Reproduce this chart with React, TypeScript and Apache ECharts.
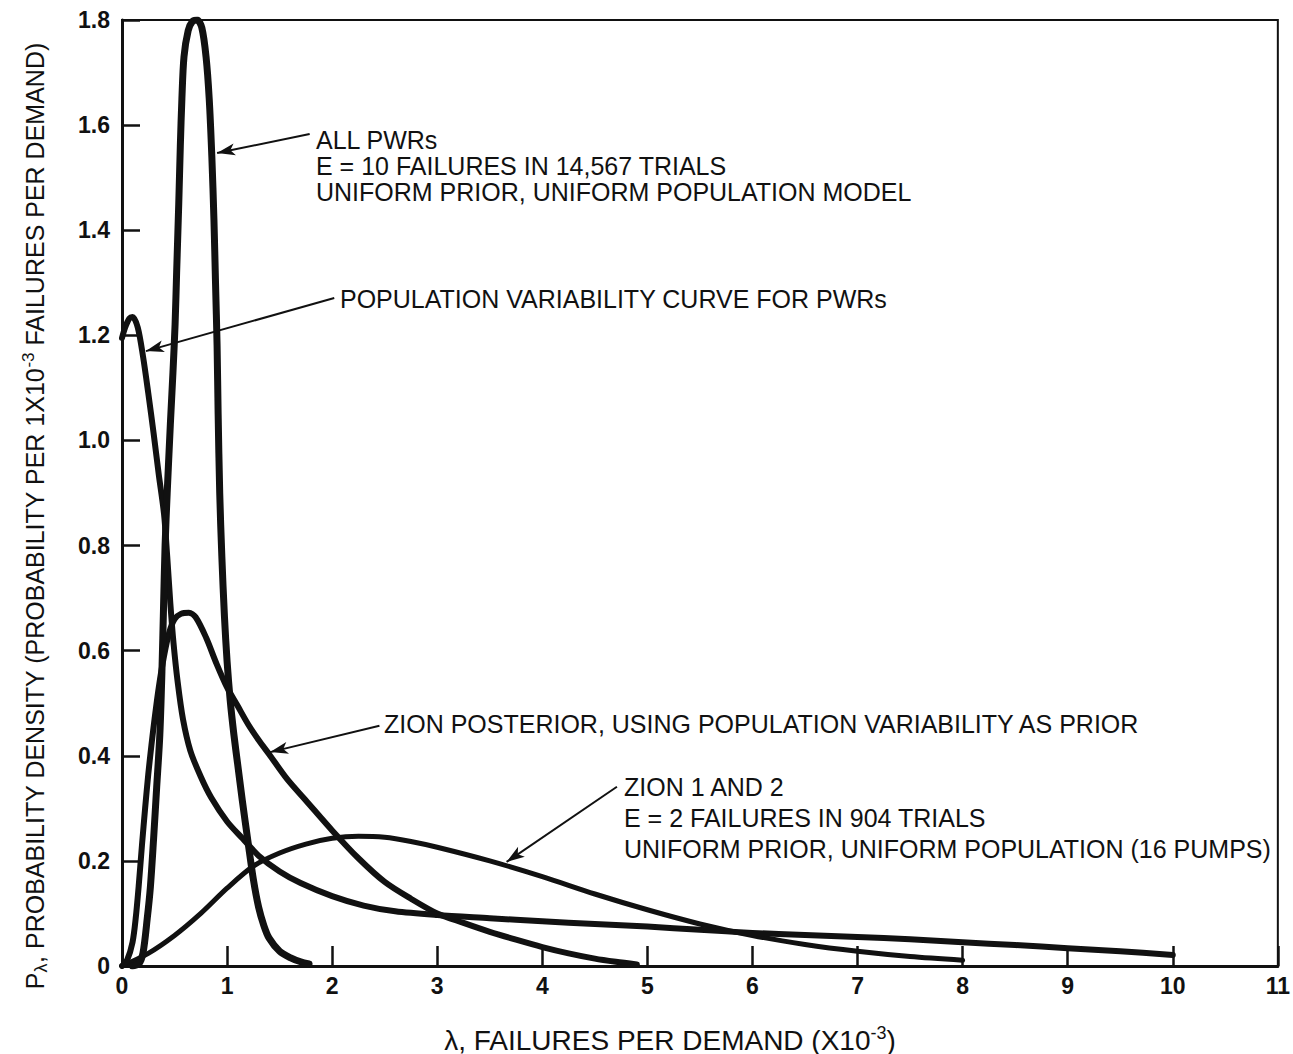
import React, { useEffect, useRef } from "react";
import * as echarts from "echarts";

// ---- Data (x in 1e-3 failures per demand, y density) ----
const allPwrsCurve: [number, number][] = [
  [0.1, 0], [0.16, 0.004], [0.2, 0.025], [0.24, 0.09], [0.27, 0.15], [0.3, 0.24],
  [0.33, 0.34], [0.36, 0.44], [0.38, 0.56], [0.395, 0.68], [0.41, 0.8], [0.43, 0.9],
  [0.46, 1.03], [0.485, 1.13], [0.505, 1.22], [0.52, 1.32], [0.54, 1.45], [0.555, 1.56],
  [0.57, 1.65], [0.59, 1.73], [0.63, 1.78], [0.67, 1.797], [0.715, 1.8], [0.76, 1.785],
  [0.8, 1.73], [0.83, 1.65], [0.855, 1.54], [0.875, 1.42], [0.89, 1.3], [0.905, 1.18],
  [0.915, 1.05], [0.93, 0.9], [0.95, 0.78], [0.975, 0.665], [1.0, 0.58], [1.03, 0.505],
  [1.065, 0.44], [1.1, 0.385], [1.145, 0.315], [1.2, 0.235], [1.25, 0.165], [1.3, 0.112],
  [1.35, 0.077], [1.4, 0.053], [1.5, 0.028], [1.6, 0.016], [1.7, 0.008], [1.78, 0.004],
];

const popVariabilityCurve: [number, number][] = [
  [0, 1.195], [0.03, 1.215], [0.07, 1.232], [0.1, 1.235], [0.15, 1.215], [0.2, 1.16],
  [0.25, 1.09], [0.3, 1.015], [0.35, 0.935], [0.4, 0.86], [0.43, 0.78], [0.46, 0.69],
  [0.49, 0.615], [0.53, 0.54], [0.58, 0.47], [0.65, 0.41], [0.75, 0.36], [0.85, 0.32],
  [1.0, 0.275], [1.15, 0.242], [1.3, 0.21], [1.5, 0.18], [1.7, 0.158], [2.0, 0.133],
  [2.3, 0.115], [2.6, 0.104], [3.0, 0.097], [3.5, 0.091], [4.0, 0.085], [4.5, 0.08],
  [5.0, 0.075], [5.5, 0.069], [6.0, 0.063], [6.5, 0.059], [7.0, 0.055], [7.5, 0.051],
  [8.0, 0.045], [8.5, 0.04], [9.0, 0.034], [9.5, 0.028], [10.0, 0.021],
];

const zionPosteriorCurve: [number, number][] = [
  [0, 0], [0.05, 0.012], [0.1, 0.045], [0.13, 0.09], [0.16, 0.155], [0.19, 0.23],
  [0.22, 0.3], [0.25, 0.365], [0.28, 0.42], [0.31, 0.47], [0.35, 0.53], [0.4, 0.59],
  [0.45, 0.635], [0.5, 0.66], [0.56, 0.67], [0.636, 0.672], [0.7, 0.664], [0.8, 0.625],
  [0.9, 0.575], [1.0, 0.53], [1.1, 0.495], [1.2, 0.46], [1.3, 0.43], [1.4, 0.403],
  [1.57, 0.356], [1.75, 0.315], [2.0, 0.258], [2.25, 0.205], [2.5, 0.16], [2.75, 0.128],
  [3.0, 0.1], [3.25, 0.082], [3.5, 0.065], [3.75, 0.05], [4.0, 0.036], [4.25, 0.024],
  [4.5, 0.014], [4.7, 0.008], [4.9, 0.003],
];

const zion12Curve: [number, number][] = [
  [0, 0], [0.25, 0.024], [0.5, 0.058], [0.75, 0.1], [1.0, 0.148], [1.25, 0.19],
  [1.5, 0.215], [1.75, 0.232], [2.0, 0.243], [2.25, 0.247], [2.5, 0.245], [2.75, 0.237],
  [3.0, 0.226], [3.5, 0.2], [4.0, 0.17], [4.5, 0.137], [5.0, 0.107], [5.5, 0.08],
  [6.0, 0.058], [6.5, 0.041], [7.0, 0.028], [7.5, 0.018], [8.0, 0.011],
];

// Annotation arrows: [from, to] in data coordinates
const annotationArrows: [number, number][][] = [
  [[1.786, 1.583], [0.905, 1.547]],
  [[2.02, 1.271], [0.228, 1.17]],
  [[2.45, 0.457], [1.41, 0.407]],
  [[4.71, 0.341], [3.66, 0.198]],
];

const allPwrsLabel = ["ALL PWRs", "E = 10 FAILURES IN 14,567 TRIALS", "UNIFORM PRIOR, UNIFORM POPULATION MODEL"];
const popVarLabel = ["POPULATION VARIABILITY CURVE FOR PWRs"];
const zionPosteriorLabel = ["ZION POSTERIOR, USING POPULATION VARIABILITY AS PRIOR"];
const zion12Label = ["ZION 1 AND 2", "E = 2 FAILURES IN 904 TRIALS", "UNIFORM PRIOR, UNIFORM POPULATION (16 PUMPS)"];

const INK = "#111111";
const FONT = "'Liberation Sans', Arial, Helvetica, sans-serif";

function textBlock(lines: string[], x: number, y: number, gap: number) {
  return lines.map((t, i) => ({
    type: "text",
    x,
    y: y + i * gap,
    silent: true,
    style: {
      text: t,
      fill: INK,
      font: `25px ${FONT}`,
      align: "left",
      verticalAlign: "middle",
    },
  }));
}

export default function App() {
  const ref = useRef<HTMLDivElement>(null);

  useEffect(() => {
    if (!ref.current) return;
    const chart = echarts.init(ref.current, undefined, { renderer: "svg" });

    const curveStyle = (w: number) => ({
      color: INK,
      width: w,
      cap: "round",
      join: "round",
    });

    const option: any = {
      animation: false,
      backgroundColor: "#ffffff",
      grid: {
        left: 122,
        right: 13,
        top: 20,
        bottom: 88,
        show: true,
        borderColor: INK,
        borderWidth: 2,
        backgroundColor: "transparent",
      },
      xAxis: {
        type: "value",
        min: 0,
        max: 11,
        interval: 1,
        axisLine: { show: true, onZero: false, lineStyle: { color: INK, width: 3 } },
        axisTick: { show: true, inside: true, length: 20, lineStyle: { color: INK, width: 2.5 } },
        axisLabel: { color: INK, fontSize: 23, fontWeight: "bold", fontFamily: FONT, margin: 8 },
        splitLine: { show: false },
      },
      yAxis: {
        type: "value",
        min: 0,
        max: 1.8,
        interval: 0.2,
        axisLine: { show: true, onZero: false, lineStyle: { color: INK, width: 3 } },
        axisTick: { show: true, inside: true, length: 18, lineStyle: { color: INK, width: 2.5 } },
        axisLabel: {
          color: INK,
          fontSize: 23,
          fontWeight: "bold",
          fontFamily: FONT,
          margin: 12,
          formatter: (v: number) => (v === 0 ? "0" : v.toFixed(1)),
        },
        splitLine: { show: false },
      },
      series: [
        {
          name: "Zion 1 and 2",
          type: "line",
          data: zion12Curve,
          symbol: "none",
          smooth: 0.3,
          lineStyle: curveStyle(5),
          z: 2,
        },
        {
          name: "Zion posterior",
          type: "line",
          data: zionPosteriorCurve,
          symbol: "none",
          smooth: 0.3,
          lineStyle: curveStyle(6),
          z: 3,
        },
        {
          name: "Population variability",
          type: "line",
          data: popVariabilityCurve,
          symbol: "none",
          smooth: 0.3,
          lineStyle: curveStyle(6),
          z: 3,
          markLine: {
            silent: true,
            symbol: ["none", "arrow"],
            symbolSize: [9, 18],
            lineStyle: { color: INK, width: 2, type: "solid" },
            label: { show: false },
            emphasis: { disabled: true },
            data: annotationArrows.map((a) => [{ coord: a[0] }, { coord: a[1] }]),
          },
        },
        {
          name: "All PWRs",
          type: "line",
          data: allPwrsCurve,
          symbol: "none",
          smooth: 0.3,
          lineStyle: curveStyle(7),
          z: 4,
        },
      ],
      graphic: [
        ...textBlock(allPwrsLabel, 316, 140, 26),
        ...textBlock(popVarLabel, 340, 299, 26),
        ...textBlock(zionPosteriorLabel, 384, 724, 26),
        ...textBlock(zion12Label, 624, 787, 31),
        {
          type: "text",
          x: 670,
          y: 1040,
          silent: true,
          style: {
            text: "{a|λ, FAILURES PER DEMAND (X10}{s|-3}{a|)}",
            align: "center",
            verticalAlign: "middle",
            fill: INK,
            rich: {
              a: { fontSize: 28, fontFamily: FONT, fill: INK, lineHeight: 32 },
              s: { fontSize: 18, fontFamily: FONT, fill: INK, lineHeight: 12, verticalAlign: "top" },
            },
          },
        },
        {
          type: "text",
          x: 35,
          y: 516,
          rotation: Math.PI / 2,
          silent: true,
          style: {
            text: "{a|P}{b|λ}{a|, PROBABILITY DENSITY (PROBABILITY PER 1X10}{s|-3}{a| FAILURES PER DEMAND)}",
            align: "center",
            verticalAlign: "middle",
            fill: INK,
            rich: {
              a: { fontSize: 25, fontFamily: FONT, fill: INK, lineHeight: 30 },
              b: { fontSize: 18, fontFamily: FONT, fill: INK, lineHeight: 14, verticalAlign: "bottom" },
              s: { fontSize: 17, fontFamily: FONT, fill: INK, lineHeight: 12, verticalAlign: "top" },
            },
          },
        },
      ],
    };

    chart.setOption(option);
    return () => chart.dispose();
  }, []);

  return (
    <div
      ref={ref}
      style={{ position: "fixed", left: 0, top: 0, width: 1293, height: 1054, background: "#fff" }}
    />
  );
}
